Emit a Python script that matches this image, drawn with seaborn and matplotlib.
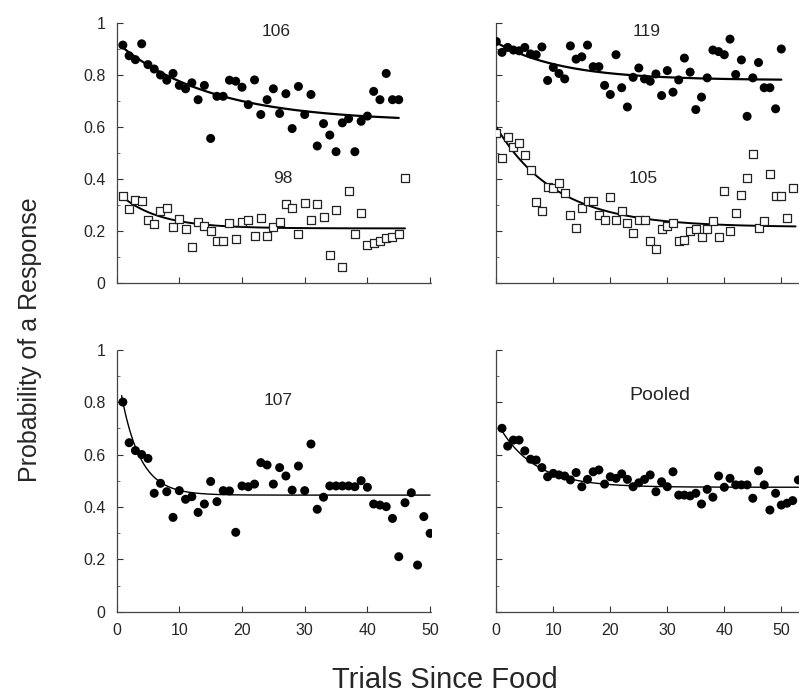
import numpy as np
import pandas as pd
import matplotlib
matplotlib.use("Agg")
import matplotlib.pyplot as plt
import seaborn as sns

# ---------------- data ----------------
trials_106 = list(range(1, 46))
prob_106 = [0.915, 0.874, 0.859, 0.92, 0.84, 0.823, 0.80, 0.78, 0.806, 0.76,
            0.747, 0.77, 0.705, 0.76, 0.556, 0.718, 0.718, 0.78, 0.776, 0.753,
            0.686, 0.781, 0.648, 0.705, 0.747, 0.652, 0.728, 0.594, 0.756, 0.648,
            0.725, 0.527, 0.613, 0.569, 0.505, 0.616, 0.632, 0.505, 0.622, 0.642,
            0.737, 0.705, 0.806, 0.705, 0.705]

trials_98 = list(range(1, 47))
prob_98 = [0.333, 0.285, 0.32, 0.314, 0.244, 0.225, 0.276, 0.289, 0.216, 0.247,
           0.209, 0.14, 0.234, 0.221, 0.20, 0.161, 0.161, 0.229, 0.171, 0.234,
           0.242, 0.181, 0.251, 0.181, 0.216, 0.234, 0.305, 0.289, 0.187, 0.308,
           0.244, 0.305, 0.255, 0.107, 0.28, 0.06, 0.355, 0.19, 0.27, 0.146,
           0.155, 0.16, 0.172, 0.178, 0.19, 0.405]

trials_119 = list(range(0, 51))
prob_119 = [0.929, 0.887, 0.906, 0.896, 0.893, 0.906, 0.881, 0.878, 0.908, 0.779,
            0.829, 0.806, 0.785, 0.912, 0.861, 0.87, 0.915, 0.832, 0.832, 0.76,
            0.725, 0.878, 0.751, 0.677, 0.791, 0.827, 0.785, 0.776, 0.804, 0.721,
            0.817, 0.734, 0.781, 0.865, 0.811, 0.667, 0.715, 0.789, 0.896, 0.89,
            0.878, 0.938, 0.802, 0.858, 0.641, 0.789, 0.848, 0.751, 0.751, 0.67,
            0.90]

trials_105 = list(range(0, 53))
prob_105 = [0.576, 0.48, 0.56, 0.524, 0.537, 0.492, 0.435, 0.31, 0.276, 0.371,
            0.365, 0.384, 0.346, 0.263, 0.213, 0.289, 0.314, 0.314, 0.263, 0.244,
            0.331, 0.244, 0.276, 0.232, 0.191, 0.244, 0.242, 0.161, 0.132, 0.209,
            0.22, 0.229, 0.161, 0.165, 0.20, 0.206, 0.178, 0.206, 0.238, 0.178,
            0.352, 0.20, 0.27, 0.34, 0.403, 0.496, 0.213, 0.238, 0.42, 0.336,
            0.336, 0.251, 0.365]

trials_107 = list(range(1, 51))
prob_107 = [0.80, 0.645, 0.615, 0.60, 0.585, 0.452, 0.49, 0.458, 0.36, 0.462,
            0.429, 0.439, 0.379, 0.411, 0.497, 0.42, 0.462, 0.461, 0.303, 0.48,
            0.477, 0.487, 0.569, 0.56, 0.487, 0.55, 0.518, 0.464, 0.556, 0.462,
            0.64, 0.391, 0.437, 0.48, 0.48, 0.48, 0.48, 0.477, 0.50, 0.475,
            0.411, 0.407, 0.401, 0.356, 0.21, 0.416, 0.454, 0.178, 0.363, 0.299]

trials_pooled = list(range(1, 54))
prob_pooled = [0.70, 0.632, 0.655, 0.655, 0.614, 0.582, 0.579, 0.55, 0.515, 0.528,
               0.522, 0.518, 0.503, 0.531, 0.477, 0.505, 0.534, 0.541, 0.487, 0.515,
               0.509, 0.526, 0.505, 0.477, 0.492, 0.505, 0.522, 0.458, 0.496, 0.477,
               0.534, 0.445, 0.445, 0.442, 0.452, 0.411, 0.467, 0.437, 0.518, 0.475,
               0.509, 0.484, 0.484, 0.484, 0.433, 0.538, 0.484, 0.388, 0.452, 0.407,
               0.414, 0.424, 0.503]

# fitted exponential curves: asymptote, amplitude, rate, first trial, last trial
fit_106 = [0.62, 0.305, 0.067, 1, 45]
fit_98 = [0.21, 0.141, 0.162, 1, 46]
fit_119 = [0.78, 0.145, 0.085, 0, 50]
fit_105 = [0.215, 0.385, 0.095, 0, 52.5]
fit_107 = [0.445, 0.494, 0.33, 0.8, 50]
fit_pooled = [0.475, 0.252, 0.16, 1, 53]

y_ticks = [0, 0.2, 0.4, 0.6, 0.8, 1]
y_ticklabels = ["0", "0.2", "0.4", "0.6", "0.8", "1"]
x_ticks = [0, 10, 20, 30, 40, 50]
x_ticklabels = ["0", "10", "20", "30", "40", "50"]

# ---------------- style ----------------
sns.set_style("ticks")
plt.rcParams["font.family"] = ["Liberation Sans", "DejaVu Sans"]

W, H = 799, 694
fig = plt.figure(figsize=(W / 100, H / 100), dpi=100)


def px_axes(x0, y0, x1, y1):
    return fig.add_axes([x0 / W, 1 - y1 / H, (x1 - x0) / W, (y1 - y0) / H])


# left panels: x 0..50.3 ; right panels: x 0..60 (clipped by figure edge)
ax_tl = px_axes(116.6, 23, 116.6 + 6.27 * 50.3, 283)
ax_tr = px_axes(496.3, 23, 496.3 + 5.7 * 60, 283)
ax_bl = px_axes(116.6, 349.7, 116.6 + 6.27 * 50.3, 611.7)
ax_br = px_axes(496.3, 349.7, 496.3 + 5.7 * 60, 611.7)


def fit_curve(ax, p, lw):
    a, b, k, t0, t1 = p
    t = np.linspace(t0, t1, 200)
    df = pd.DataFrame({"t": t, "p": a + b * np.exp(-k * t)})
    sns.lineplot(data=df, x="t", y="p", ax=ax, color="black", lw=lw,
                 legend=False, zorder=2)


def filled(ax, t, p):
    df = pd.DataFrame({"t": t, "p": p})
    sns.scatterplot(data=df, x="t", y="p", ax=ax, color="black", s=42,
                    edgecolor="none", marker="o", legend=False, zorder=3)


def hollow(ax, t, p):
    df = pd.DataFrame({"t": t, "p": p})
    sns.scatterplot(data=df, x="t", y="p", ax=ax, marker="s", s=28,
                    facecolor="white", edgecolor="#222222", linewidth=0.9,
                    legend=False, zorder=3)


filled(ax_tl, trials_106, prob_106)
fit_curve(ax_tl, fit_106, 1.6)
hollow(ax_tl, trials_98, prob_98)
fit_curve(ax_tl, fit_98, 1.4)

filled(ax_tr, trials_119, prob_119)
fit_curve(ax_tr, fit_119, 1.6)
hollow(ax_tr, trials_105, prob_105)
fit_curve(ax_tr, fit_105, 1.4)

filled(ax_bl, trials_107, prob_107)
fit_curve(ax_bl, fit_107, 1.0)

filled(ax_br, trials_pooled, prob_pooled)
fit_curve(ax_br, fit_pooled, 1.0)

title_fs = 12.5
ax_tl.text(25.5, 0.966, "106", ha="center", va="center", fontsize=title_fs)
ax_tl.text(26.5, 0.403, "98", ha="center", va="center", fontsize=title_fs)
ax_tr.text(26.4, 0.966, "119", ha="center", va="center", fontsize=title_fs)
ax_tr.text(25.8, 0.403, "105", ha="center", va="center", fontsize=title_fs)
ax_bl.text(25.8, 0.808, "107", ha="center", va="center", fontsize=title_fs)
ax_br.text(28.7, 0.827, "Pooled", ha="center", va="center", fontsize=14)

for ax, xmax in [(ax_tl, 50.3), (ax_bl, 50.3), (ax_tr, 60), (ax_br, 60)]:
    ax.set_xlim(0, xmax)
    ax.set_ylim(0, 1.0)
    ax.set_xlabel("")
    ax.set_ylabel("")
    for s in ["top", "right"]:
        ax.spines[s].set_visible(False)
    for s in ["left", "bottom"]:
        ax.spines[s].set_color("#444444")
        ax.spines[s].set_linewidth(0.9)
        ax.spines[s].set_linestyle((0, (2, 1)))
    ax.set_xticks(x_ticks)
    ax.set_yticks(y_ticks)
    ax.set_yticks(np.arange(0, 1.01, 0.1), minor=True)
    ax.tick_params(axis="both", which="major", direction="in", length=4,
                   width=0.8, color="#333333", labelsize=11.5, pad=8)
    ax.tick_params(axis="y", which="minor", direction="in", length=2,
                   width=0.6, color="#555555")
    ax.patch.set_alpha(0)

for ax in [ax_tl, ax_bl]:
    ax.set_yticklabels(y_ticklabels)
for ax in [ax_tr, ax_br]:
    ax.set_yticklabels([])
for ax in [ax_bl, ax_br]:
    ax.set_xticklabels(x_ticklabels)
for ax in [ax_tl, ax_tr]:
    ax.set_xticklabels([])

fig.text(30 / W, 1 - 340 / H, "Probability of a Response", rotation=90,
         ha="center", va="center", fontsize=18)
fig.text(445 / W, 1 - 680 / H, "Trials Since Food", ha="center",
         va="center", fontsize=21)

fig.savefig("out.png", dpi=100)
